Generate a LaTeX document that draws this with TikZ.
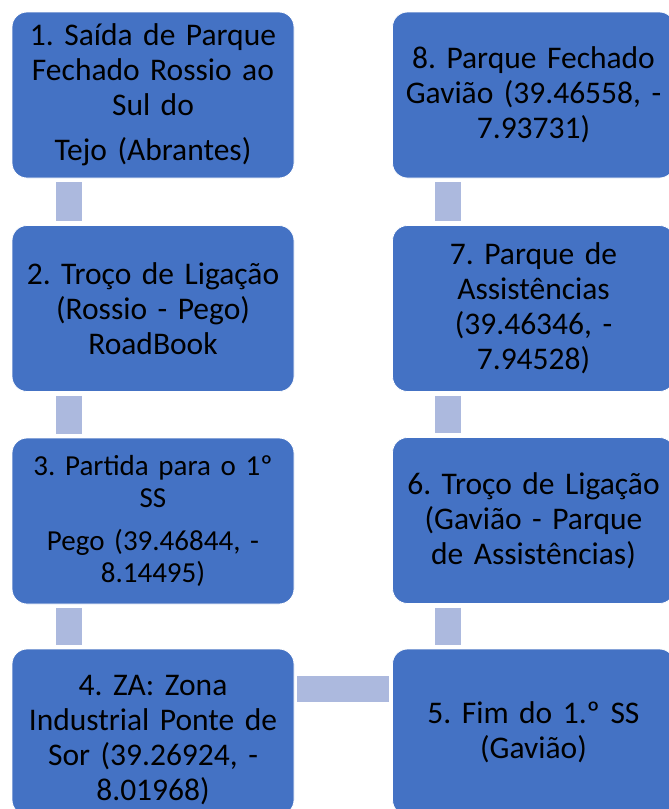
\documentclass[tikz,border=0pt]{standalone}
\usepackage{fontspec}
\setmainfont{Carlito}
\frenchspacing
\usetikzlibrary{calc}
\definecolor{boxblue}{HTML}{4472C4}
\definecolor{linkblue}{HTML}{ACB9DE}
\begin{document}
\begin{tikzpicture}[x=1pt,y=-1pt,
  box/.style={draw=white, line width=0.8pt, fill=boxblue, rounded corners=15pt,
    minimum width=282pt, minimum height=166pt, inner sep=0pt, align=center,
    text width=272pt, font=\fontsize{31.5}{35}\selectfont},
  smallbox/.style={box, font=\fontsize{29}{32}\selectfont},
  boxtext/.style={inner sep=0pt, align=center, text width=272pt, font=\fontsize{31.5}{35}\selectfont},
  link/.style={draw=linkblue, line width=26pt}]
\useasboundingbox (0,0) rectangle (669,809);
\clip (0,0) rectangle (669,809);
\node[box] (b1) at (153,95) {1. Saída de Parque\\ Fechado Rossio ao\\ Sul do\\[10pt] Tejo (Abrantes)};
\node[box] (b2) at (153,308.5) {2. Troço de Ligação\\ (Rossio - Pego)\\ RoadBook};
\node[smallbox] (b3) at (153,521) {3. Partida para o 1º\\ SS\\[11pt] Pego (39.46844, -\\ 8.14495)};
\node[box] (b4) at (153,732) {};
\node[boxtext] (t4) at ($(b4.center)+(0,8)$) {4. ZA: Zona\\ Industrial Ponte de\\ Sor (39.26924, -\\ 8.01968)};
\node[box] (b5) at (533.5,732) {5. Fim do 1.º SS\\ (Gavião)};
\node[box] (b6) at (533.5,520.5) {6. Troço de Ligação\\ (Gavião - Parque\\ de Assistências)};
\node[box] (b7) at (533.5,308.5) {7. Parque de\\ Assistências\\ (39.46346, -\\ 7.94528)};
\node[box] (b8) at (533.5,95) {8. Parque Fechado\\ Gavião (39.46558, -\\ 7.93731)};
\draw[link] ($(b1.south west)+(57,4)$) -- ($(b2.north west)+(57,-4)$);
\draw[link] ($(b2.south west)+(57,4)$) -- ($(b3.north west)+(57,-4)$);
\draw[link] ($(b3.south west)+(57,4)$) -- ($(b4.north west)+(57,-4)$);
\draw[link] ($(b4.north east)+(3,40)$) -- ($(b5.north west)+(-3,40)$);
\draw[link] ($(b6.south west)+(56,4)$) -- ($(b5.north west)+(56,-4)$);
\draw[link] ($(b7.south west)+(56,4)$) -- ($(b6.north west)+(56,-4)$);
\draw[link] ($(b8.south west)+(56,4)$) -- ($(b7.north west)+(56,-4)$);
\end{tikzpicture}
\end{document}
